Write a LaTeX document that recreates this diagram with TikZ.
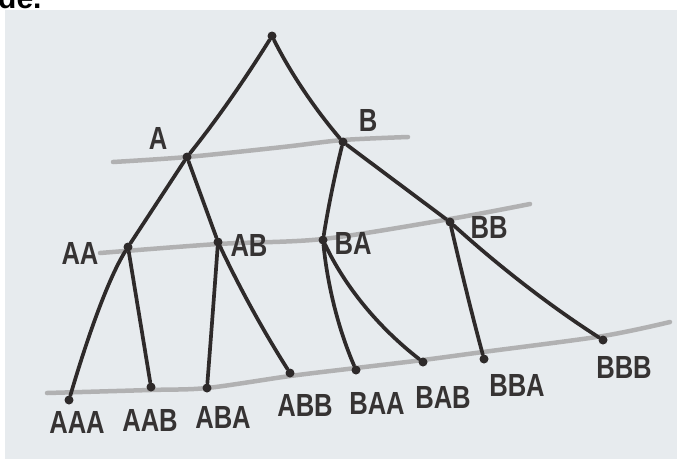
\documentclass[tikz,border=0pt]{standalone}
\usepackage{fontspec}
\setmainfont{Liberation Sans}
\newfontfamily\hand[FakeStretch=0.8]{Liberation Sans}
\definecolor{paper}{HTML}{E7EBEE}
\definecolor{ink}{HTML}{2E2A2A}
\definecolor{pencil}{HTML}{A8A8A8}
\definecolor{labelink}{HTML}{363333}
\tikzset{
  dotn/.style={circle,fill=ink,inner sep=0pt,minimum size=9pt},
  edge/.style={draw=ink,line width=3.7pt,line cap=round,line join=round},
  level/.style={draw=pencil,line width=4.5pt,line cap=round,opacity=0.85},
  lab/.style={text=labelink,inner sep=0pt,font=\hand\bfseries\fontsize{32}{32}\selectfont}
}
\begin{document}
\begin{tikzpicture}[x=1pt,y=-1pt]
\useasboundingbox (0,0) rectangle (677,459);
\fill[white] (0,0) rectangle (677,459);
\fill[paper] (5,10) rectangle (677,459);
\node[anchor=base west,inner sep=0pt,text=black,font=\bfseries\fontsize{30}{30}\selectfont] (cut) at (-2,8) {de.};
% pencil level lines
\draw[level] plot[smooth] coordinates {(113,162) (187,157) (283,147) (343,140) (408,137)};
\draw[level] plot[smooth] coordinates {(100,253) (218,244) (323,239) (450,219) (530,204)};
\draw[level] plot[smooth] coordinates {(47,393) (150,390) (207,388) (290,376) (356,368) (423,360) (483,352) (603,336) (670,322)};
% tree nodes
\node[dotn] (r) at (272,36) {};
\node[dotn] (A) at (187,157) {};
\node[dotn] (B) at (343,142) {};
\node[dotn] (AA) at (128,247) {};
\node[dotn] (AB) at (218,242) {};
\node[dotn] (BA) at (323,240) {};
\node[dotn] (BB) at (450,222) {};
\node[dotn] (AAA) at (69,400) {};
\node[dotn] (AAB) at (151,387) {};
\node[dotn] (ABA) at (207,388) {};
\node[dotn] (ABB) at (290,373) {};
\node[dotn] (BAA) at (356,370) {};
\node[dotn] (BAB) at (423,362) {};
\node[dotn] (BBA) at (484,359) {};
\node[dotn] (BBB) at (603,340) {};
% edges
\draw[edge] (r) .. controls (247,76) and (219,117) .. (A);
\draw[edge] (r) .. controls (290,72) and (314,108) .. (B);
\draw[edge] (A) -- (AA);
\draw[edge] (AA) .. controls (110.7,274.3) and (91,325.3) .. (AAA);
\draw[edge] (AA) -- (AAB);
\draw[edge] (A) -- (AB);
\draw[edge] (AB) .. controls (214.7,287.3) and (211,336.7) .. (ABA);
\draw[edge] (AB) .. controls (239.3,287.3) and (263.3,331) .. (ABB);
\draw[edge] (B) .. controls (335,174) and (328.3,206.7) .. (BA);
\draw[edge] (BA) .. controls (327.7,286.7) and (338.7,330) .. (BAA);
\draw[edge] (BA) .. controls (345,286.7) and (378.3,327.3) .. (BAB);
\draw[edge] (B) -- (BB);
\draw[edge] (BB) .. controls (462,274) and (473.3,319.7) .. (BBA);
\draw[edge] (BB) .. controls (500,267.3) and (551,306.7) .. (BBB);
% labels
\node[lab] (lA) at (158,138) {A};
\node[lab] (lB) at (368,120) {B};
\node[lab] (lAA) at (80,253) {AA};
\node[lab] (lAB) at (249,245) {AB};
\node[lab] (lBA) at (353,243) {BA};
\node[lab] (lBB) at (489,227) {BB};
\node[lab] (lAAA) at (77,422) {AAA};
\node[lab] (lAAB) at (150,420) {AAB};
\node[lab] (lABA) at (223,417) {ABA};
\node[lab] (lABB) at (305,405) {ABB};
\node[lab] (lBAA) at (377,403) {BAA};
\node[lab] (lBAB) at (443,397) {BAB};
\node[lab] (lBBA) at (517,385) {BBA};
\node[lab] (lBBB) at (624,367) {BBB};
\end{tikzpicture}
\end{document}
